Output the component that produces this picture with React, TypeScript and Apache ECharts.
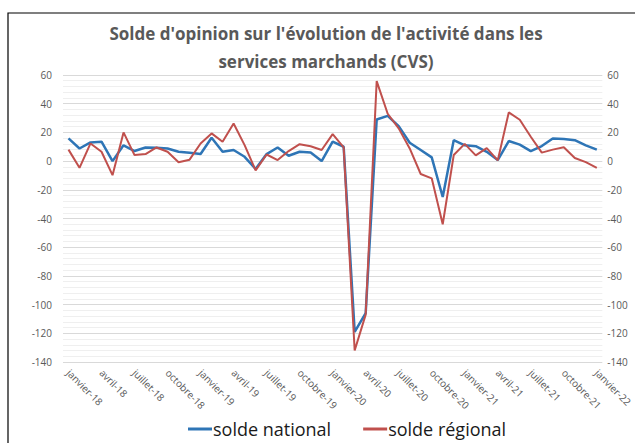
import React, { useEffect, useRef } from "react";
import * as echarts from "echarts";

const MONTHS = ["janvier", "février", "mars", "avril", "mai", "juin", "juillet", "août", "septembre", "octobre", "novembre", "décembre"];
const YEARS = ["18", "19", "20", "21", "22"];
const categories: string[] = [];
YEARS.forEach((y) => MONTHS.forEach((m) => categories.push(m + "-" + y)));
categories.length = 49;

const national = [15.8, 8.8, 13, 13.5, 0, 11, 7, 9.5, 9.3, 8.8, 6.5, 5.8, 4.9, 16.3, 6.5, 7.7, 3, -5.5, 4.9, 9.5, 3.7, 6.5, 6, 0, 13.5, 10, -119, -106, 29, 31.5, 24.4, 12.8, 7.7, 2.6, -25, 14.6, 11, 10.4, 6.5, 0.7, 14, 11.5, 7, 10.5, 15.8, 15.4, 14.6, 11, 8];
const regional = [8, -4.7, 12.3, 6.5, -9.8, 20, 4.2, 4.9, 9.5, 6.5, -0.8, 1, 12.3, 19.3, 13.5, 26.2, 11.1, -6.5, 4.6, 0.7, 7, 11.8, 10.3, 7.7, 18.8, 9.5, -132, -107, 55.7, 33, 22.8, 8.8, -9, -12, -44, 4.2, 12, 4, 9, 0.5, 33.9, 28.8, 17, 5.9, 8, 9.6, 2.2, -0.7, -4.7];

const TITLE = "Solde d'opinion sur l'évolution de l'activité dans les\nservices marchands (CVS)";
const FONT = "'Open Sans', sans-serif";

export default function App() {
  const ref = useRef<HTMLDivElement>(null);
  useEffect(() => {
    const chart = echarts.init(ref.current!, null, { renderer: "svg" });
    chart.setOption({
      animation: false,
      backgroundColor: "#fff",
      graphic: [
        {
          type: "rect",
          shape: { x: 8, y: 13, width: 700, height: 500 },
          style: { fill: "none", stroke: "#000", lineWidth: 1.2 },
          silent: true,
        },
        {
          type: "text",
          x: 326,
          y: 19,
          style: {
            text: TITLE,
            textAlign: "center",
            fill: "#595959",
            font: "bold 17px " + FONT,
            lineHeight: 28,
          },
        },
      ],
      grid: { left: 63, right: 27, top: 75, bottom: 81, containLabel: false },
      legend: {
        left: 183,
        top: 415,
        itemWidth: 24,
        itemHeight: 3,
        itemGap: 32,
        icon: "rect",
        textStyle: { fontSize: 18, color: "#1a1a1a", fontFamily: FONT, padding: [0, 0, 0, -4] },
        data: ["solde national", "solde régional"],
      },
      xAxis: {
        type: "category",
        data: categories,
        boundaryGap: true,
        axisLine: { show: false },
        axisTick: { show: false },
        axisLabel: {
          interval: 2,
          rotate: -45,
          margin: 9,
          fontSize: 10,
          color: "#595959",
          fontFamily: FONT,
        },
      },
      yAxis: [
        {
          type: "value",
          min: -140,
          max: 60,
          interval: 20,
          axisLine: { show: false },
          axisTick: { show: false },
          axisLabel: { fontSize: 10, color: "#595959", margin: 11, fontFamily: FONT },
          splitLine: { show: true, lineStyle: { color: "#d9d9d9", width: 1.2 } },
          minorTick: { show: false, splitNumber: 5 },
          minorSplitLine: { show: true, lineStyle: { color: "#efefef", width: 1 } },
        },
        {
          type: "value",
          min: -140,
          max: 60,
          interval: 20,
          position: "right",
          axisLine: { show: false },
          axisTick: { show: false },
          axisLabel: { fontSize: 10, color: "#595959", margin: 5, fontFamily: FONT },
          splitLine: { show: false },
        },
      ],
      series: [
        {
          name: "solde national",
          type: "line",
          data: national,
          symbol: "none",
          lineStyle: { width: 2.5, color: "#2E75B6" },
          itemStyle: { color: "#2E75B6" },
        },
        {
          name: "solde régional",
          type: "line",
          data: regional,
          symbol: "none",
          lineStyle: { width: 2, color: "#C0504D" },
          itemStyle: { color: "#C0504D" },
        },
      ],
    });
    return () => chart.dispose();
  }, []);
  return (
    <div
      ref={ref}
      style={{ position: "fixed", left: 0, top: 0, width: 635, height: 443 }}
    />
  );
}
